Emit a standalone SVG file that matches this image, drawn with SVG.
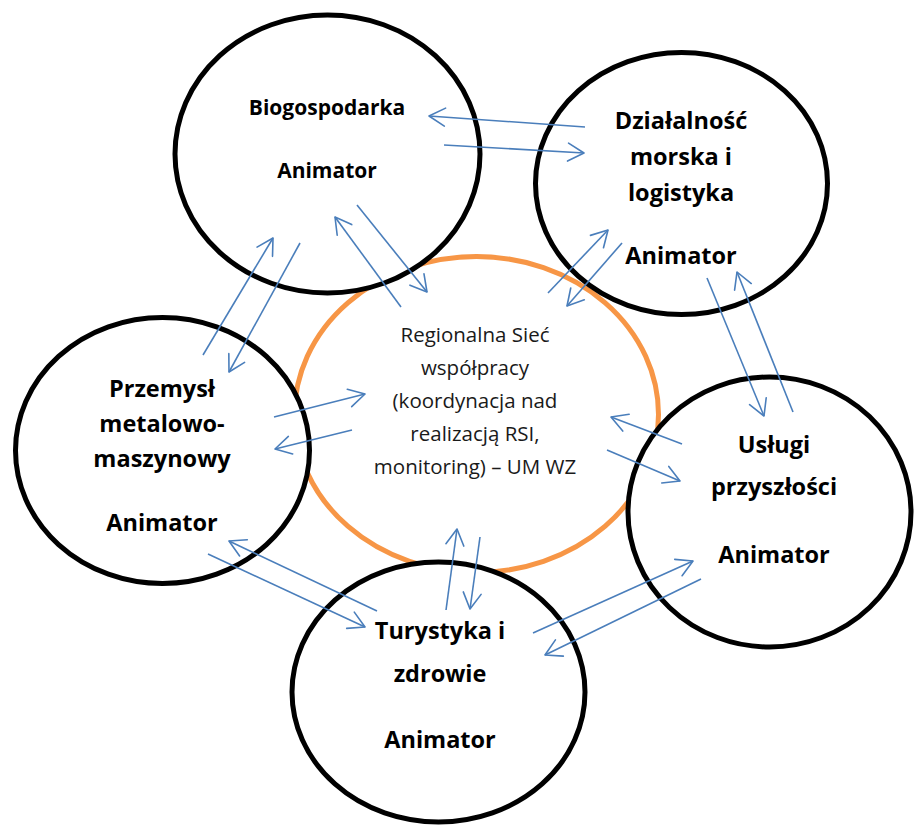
<svg xmlns="http://www.w3.org/2000/svg" width="914" height="827" viewBox="0 0 914 827">
<defs>
<marker id="ah" markerUnits="userSpaceOnUse" viewBox="-20 -12 24 24" refX="0" refY="0" markerWidth="24" markerHeight="24" orient="auto">
<path d="M-16,-9 L0,0 L-16,9" fill="none" stroke="#4A7EBB" stroke-width="1.6" stroke-linecap="round" stroke-linejoin="round"/>
</marker>
<style>
.node{fill:#fff;stroke:#000;stroke-width:5}
.hub{fill:none;stroke:#F79646;stroke-width:5}
.lbl{font-family:"Open Sans","Liberation Sans",sans-serif;font-weight:bold;font-size:23.5px;fill:#000;text-anchor:middle}
.sm{font-size:21px}
.ctr{font-family:"Open Sans","Liberation Sans",sans-serif;font-size:20.5px;fill:#1a1a1a;text-anchor:middle}
.c line{stroke:#4A7EBB;stroke-width:1.6;marker-end:url(#ah)}
</style>
</defs>
<rect width="914" height="827" fill="#fff"/>
<g id="hub">
<ellipse class="hub" cx="476.5" cy="414.5" rx="182" ry="158"/>
<text class="ctr" x="475" y="342">Regionalna Sieć</text>
<text class="ctr" x="475" y="375">współpracy</text>
<text class="ctr" x="475" y="408">(koordynacja nad</text>
<text class="ctr" x="475" y="441">realizacją RSI,</text>
<text class="ctr" x="475" y="474">monitoring) – UM WZ</text>
</g>
<g id="biogospodarka">
<ellipse class="node" cx="327.5" cy="154" rx="152.5" ry="139"/>
<text class="lbl sm" x="327" y="115">Biogospodarka</text>
<text class="lbl sm" x="327" y="178">Animator</text>
</g>
<g id="dzialalnosc">
<ellipse class="node" cx="681.5" cy="183.5" rx="146" ry="131"/>
<text class="lbl" x="681" y="129">Działalność</text>
<text class="lbl" x="681" y="165">morska i</text>
<text class="lbl" x="681" y="201">logistyka</text>
<text class="lbl" x="681" y="264">Animator</text>
</g>
<g id="przemysl">
<ellipse class="node" cx="162.5" cy="450.5" rx="147" ry="133"/>
<text class="lbl" x="162" y="397">Przemysł</text>
<text class="lbl" x="162" y="432">metalowo-</text>
<text class="lbl" x="162" y="467">maszynowy</text>
<text class="lbl" x="162" y="531">Animator</text>
</g>
<g id="uslugi">
<ellipse class="node" cx="769.5" cy="512" rx="141.5" ry="135"/>
<text class="lbl" x="774" y="453">Usługi</text>
<text class="lbl" x="774" y="495">przyszłości</text>
<text class="lbl" x="774" y="563">Animator</text>
</g>
<g id="turystyka">
<ellipse class="node" cx="438.5" cy="692" rx="146.5" ry="130"/>
<text class="lbl" x="440" y="639">Turystyka i</text>
<text class="lbl" x="440" y="682">zdrowie</text>
<text class="lbl" x="440" y="748">Animator</text>
</g>
<g id="connectors" class="c">
<line x1="585" y1="127" x2="429" y2="116"/>
<line x1="444" y1="145" x2="584" y2="153"/>
<line x1="401" y1="307" x2="335" y2="217"/>
<line x1="357" y1="205" x2="427" y2="292"/>
<line x1="203" y1="355" x2="273" y2="238"/>
<line x1="300" y1="243" x2="229" y2="372"/>
<line x1="274" y1="417" x2="365" y2="394"/>
<line x1="352" y1="430" x2="275" y2="449"/>
<line x1="377" y1="611" x2="229" y2="541"/>
<line x1="208" y1="554" x2="365" y2="627"/>
<line x1="446" y1="610" x2="457" y2="529"/>
<line x1="480" y1="537" x2="470" y2="609"/>
<line x1="533" y1="633" x2="693" y2="561"/>
<line x1="701" y1="579" x2="545" y2="655"/>
<line x1="682" y1="444" x2="611" y2="417"/>
<line x1="607" y1="450" x2="680" y2="481"/>
<line x1="707" y1="278" x2="764" y2="416"/>
<line x1="793" y1="412" x2="737" y2="272"/>
<line x1="548" y1="293" x2="608" y2="230"/>
<line x1="622" y1="243" x2="567" y2="306"/>
</g>
</svg>
